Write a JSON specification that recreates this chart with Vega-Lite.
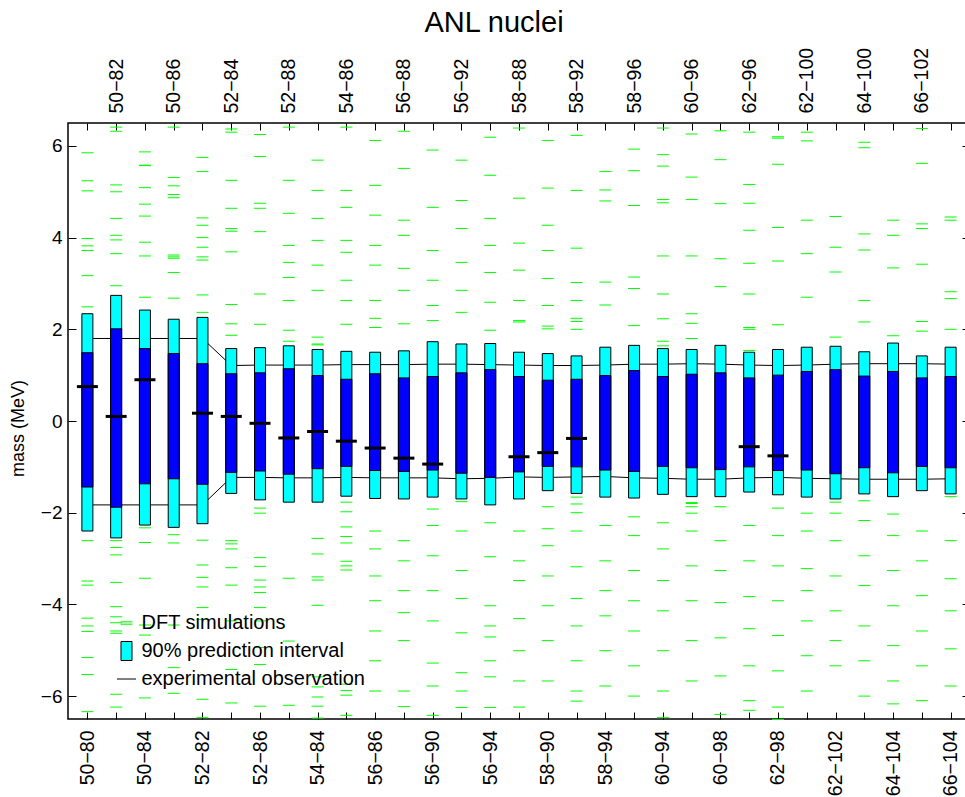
{
  "$schema": "https://vega.github.io/schema/vega-lite/v6.json",
  "width": 902,
  "height": 596,
  "autosize": {"type": "none"},
  "padding": {"left": 68, "top": 123, "right": -5, "bottom": 78},
  "title": {"text": "ANL nuclei", "fontSize": 29, "font": "Liberation Sans", "fontWeight": "normal", "color": "black", "anchor": "middle", "dx": -25, "offset": 9},
  "config": {
    "view": {"stroke": "black", "strokeWidth": 1.5},
    "font": "Liberation Sans",
    "axis": {"grid": false, "domain": false, "tickColor": "black", "labelColor": "black", "labelFont": "Liberation Sans", "titleFont": "Liberation Sans", "titleColor": "black", "titleFontWeight": "normal"}
  },
  "datasets": {
    "bars": [
      {"i": 1, "hi90": 2.34, "hi50": 1.49, "lo50": -1.44, "lo90": -2.40, "exp": 0.75, "su": 1.80, "sl": -1.83},
      {"i": 2, "hi90": 2.74, "hi50": 2.01, "lo50": -1.88, "lo90": -2.55, "exp": 0.10, "su": 1.80, "sl": -1.83},
      {"i": 3, "hi90": 2.42, "hi50": 1.58, "lo50": -1.37, "lo90": -2.27, "exp": 0.90, "su": 1.80, "sl": -1.83},
      {"i": 4, "hi90": 2.22, "hi50": 1.47, "lo50": -1.26, "lo90": -2.32, "exp": null, "su": 1.80, "sl": -1.83},
      {"i": 5, "hi90": 2.26, "hi50": 1.25, "lo50": -1.38, "lo90": -2.24, "exp": 0.17, "su": 1.80, "sl": -1.83},
      {"i": 6, "hi90": 1.58, "hi50": 1.03, "lo50": -1.12, "lo90": -1.58, "exp": 0.10, "su": 1.21, "sl": -1.23},
      {"i": 7, "hi90": 1.60, "hi50": 1.05, "lo50": -1.09, "lo90": -1.72, "exp": -0.05, "su": 1.22, "sl": -1.23},
      {"i": 8, "hi90": 1.64, "hi50": 1.14, "lo50": -1.16, "lo90": -1.77, "exp": -0.37, "su": 1.22, "sl": -1.24},
      {"i": 9, "hi90": 1.56, "hi50": 0.99, "lo50": -1.04, "lo90": -1.77, "exp": -0.23, "su": 1.22, "sl": -1.24},
      {"i": 10, "hi90": 1.52, "hi50": 0.91, "lo50": -0.99, "lo90": -1.64, "exp": -0.44, "su": 1.23, "sl": -1.23},
      {"i": 11, "hi90": 1.50, "hi50": 1.03, "lo50": -1.08, "lo90": -1.69, "exp": -0.59, "su": 1.23, "sl": -1.24},
      {"i": 12, "hi90": 1.53, "hi50": 0.94, "lo50": -1.10, "lo90": -1.70, "exp": -0.81, "su": 1.23, "sl": -1.24},
      {"i": 13, "hi90": 1.73, "hi50": 0.97, "lo50": -1.07, "lo90": -1.66, "exp": -0.94, "su": 1.24, "sl": -1.24},
      {"i": 14, "hi90": 1.68, "hi50": 1.05, "lo50": -1.14, "lo90": -1.70, "exp": null, "su": 1.24, "sl": -1.26},
      {"i": 15, "hi90": 1.69, "hi50": 1.12, "lo50": -1.23, "lo90": -1.83, "exp": null, "su": 1.23, "sl": -1.25},
      {"i": 16, "hi90": 1.50, "hi50": 0.97, "lo50": -1.11, "lo90": -1.70, "exp": -0.78, "su": 1.22, "sl": -1.22},
      {"i": 17, "hi90": 1.47, "hi50": 0.89, "lo50": -0.99, "lo90": -1.52, "exp": -0.69, "su": 1.21, "sl": -1.23},
      {"i": 18, "hi90": 1.42, "hi50": 0.91, "lo50": -1.00, "lo90": -1.58, "exp": -0.38, "su": 1.21, "sl": -1.22},
      {"i": 19, "hi90": 1.61, "hi50": 0.99, "lo50": -1.07, "lo90": -1.66, "exp": null, "su": 1.22, "sl": -1.21},
      {"i": 20, "hi90": 1.65, "hi50": 1.10, "lo50": -1.10, "lo90": -1.68, "exp": null, "su": 1.24, "sl": -1.24},
      {"i": 21, "hi90": 1.58, "hi50": 0.97, "lo50": -0.99, "lo90": -1.60, "exp": null, "su": 1.24, "sl": -1.25},
      {"i": 22, "hi90": 1.56, "hi50": 1.02, "lo50": -1.02, "lo90": -1.65, "exp": null, "su": 1.25, "sl": -1.27},
      {"i": 23, "hi90": 1.65, "hi50": 1.05, "lo50": -1.06, "lo90": -1.65, "exp": null, "su": 1.24, "sl": -1.27},
      {"i": 24, "hi90": 1.50, "hi50": 0.94, "lo50": -1.00, "lo90": -1.55, "exp": -0.56, "su": 1.22, "sl": -1.24},
      {"i": 25, "hi90": 1.56, "hi50": 1.00, "lo50": -1.08, "lo90": -1.61, "exp": -0.76, "su": 1.21, "sl": -1.23},
      {"i": 26, "hi90": 1.61, "hi50": 1.08, "lo50": -1.07, "lo90": -1.66, "exp": null, "su": 1.22, "sl": -1.25},
      {"i": 27, "hi90": 1.63, "hi50": 1.12, "lo50": -1.15, "lo90": -1.70, "exp": null, "su": 1.24, "sl": -1.26},
      {"i": 28, "hi90": 1.51, "hi50": 0.98, "lo50": -1.02, "lo90": -1.59, "exp": null, "su": 1.25, "sl": -1.27},
      {"i": 29, "hi90": 1.70, "hi50": 1.08, "lo50": -1.13, "lo90": -1.65, "exp": null, "su": 1.25, "sl": -1.27},
      {"i": 30, "hi90": 1.42, "hi50": 0.94, "lo50": -0.99, "lo90": -1.52, "exp": null, "su": 1.25, "sl": -1.27},
      {"i": 31, "hi90": 1.61, "hi50": 0.97, "lo50": -1.02, "lo90": -1.59, "exp": null, "su": 1.24, "sl": -1.26}
    ],
    "dft": [
      {"i":1,"v":5.85},{"i":1,"v":5.24},{"i":1,"v":5.02},{"i":1,"v":3.98},{"i":1,"v":3.82},{"i":1,"v":3.72},{"i":1,"v":3.17},{"i":1,"v":2.49},{"i":1,"v":-2.61},{"i":1,"v":-3.49},{"i":1,"v":-3.58},{"i":1,"v":-4.30},{"i":1,"v":-4.47},{"i":1,"v":-4.59},{"i":1,"v":-5.16},{"i":1,"v":-5.53},{"i":1,"v":-6.34},
      {"i":2,"v":6.41},{"i":2,"v":6.32},{"i":2,"v":5.15},{"i":2,"v":5.00},{"i":2,"v":4.42},{"i":2,"v":4.05},{"i":2,"v":3.95},{"i":2,"v":3.65},{"i":2,"v":2.95},{"i":2,"v":-2.61},{"i":2,"v":-2.76},{"i":2,"v":-2.92},{"i":2,"v":-3.52},{"i":2,"v":-4.05},{"i":2,"v":-4.27},{"i":2,"v":-4.40},{"i":2,"v":-4.58},{"i":2,"v":-4.63},{"i":2,"v":-5.96},{"i":2,"v":-6.24},
      {"i":3,"v":5.87},{"i":3,"v":5.58},{"i":3,"v":5.57},{"i":3,"v":5.09},{"i":3,"v":4.73},{"i":3,"v":4.47},{"i":3,"v":3.90},{"i":3,"v":3.60},{"i":3,"v":2.70},{"i":3,"v":-2.33},{"i":3,"v":-2.65},{"i":3,"v":-3.43},{"i":3,"v":-4.45},{"i":3,"v":-4.67},{"i":3,"v":-6.04},
      {"i":4,"v":6.41},{"i":4,"v":5.31},{"i":4,"v":5.13},{"i":4,"v":4.94},{"i":4,"v":4.87},{"i":4,"v":3.62},{"i":4,"v":3.58},{"i":4,"v":3.55},{"i":4,"v":3.24},{"i":4,"v":2.68},{"i":4,"v":-2.48},{"i":4,"v":-2.66},{"i":4,"v":-4.45},{"i":4,"v":-5.38},{"i":4,"v":-5.94},
      {"i":5,"v":5.75},{"i":5,"v":5.44},{"i":5,"v":4.43},{"i":5,"v":4.27},{"i":5,"v":4.00},{"i":5,"v":3.79},{"i":5,"v":3.58},{"i":5,"v":3.51},{"i":5,"v":2.75},{"i":5,"v":2.37},{"i":5,"v":-2.60},{"i":5,"v":-3.14},{"i":5,"v":-3.41},{"i":5,"v":-3.62},{"i":5,"v":-4.07},{"i":5,"v":-4.33},{"i":5,"v":-6.07},{"i":5,"v":-6.47},
      {"i":6,"v":6.37},{"i":6,"v":6.30},{"i":6,"v":5.25},{"i":6,"v":4.64},{"i":6,"v":4.20},{"i":6,"v":4.14},{"i":6,"v":3.69},{"i":6,"v":2.54},{"i":6,"v":2.12},{"i":6,"v":1.87},{"i":6,"v":-2.61},{"i":6,"v":-2.68},{"i":6,"v":-2.79},{"i":6,"v":-3.20},{"i":6,"v":-3.58},{"i":6,"v":-4.36},{"i":6,"v":-5.42},{"i":6,"v":-6.15},
      {"i":7,"v":6.25},{"i":7,"v":5.77},{"i":7,"v":4.75},{"i":7,"v":4.64},{"i":7,"v":4.13},{"i":7,"v":2.77},{"i":7,"v":2.11},{"i":7,"v":-1.90},{"i":7,"v":-2.01},{"i":7,"v":-2.98},{"i":7,"v":-3.17},{"i":7,"v":-3.47},{"i":7,"v":-3.62},{"i":7,"v":-3.74},{"i":7,"v":-4.07},{"i":7,"v":-4.36},{"i":7,"v":-4.94},{"i":7,"v":-5.31},{"i":7,"v":-6.22},
      {"i":8,"v":6.41},{"i":8,"v":5.25},{"i":8,"v":4.53},{"i":8,"v":3.83},{"i":8,"v":3.46},{"i":8,"v":3.13},{"i":8,"v":2.63},{"i":8,"v":1.98},{"i":8,"v":1.74},{"i":8,"v":-3.43},{"i":8,"v":-4.80},{"i":8,"v":-6.20},
      {"i":9,"v":5.69},{"i":9,"v":5.03},{"i":9,"v":4.42},{"i":9,"v":3.94},{"i":9,"v":3.40},{"i":9,"v":2.85},{"i":9,"v":1.83},{"i":9,"v":1.68},{"i":9,"v":1.66},{"i":9,"v":-2.56},{"i":9,"v":-2.90},{"i":9,"v":-3.40},{"i":9,"v":-3.47},{"i":9,"v":-4.02},{"i":9,"v":-5.58},{"i":9,"v":-5.80},{"i":9,"v":-6.02},{"i":9,"v":-6.22},{"i":9,"v":-6.48},
      {"i":10,"v":6.41},{"i":10,"v":5.03},{"i":10,"v":4.66},{"i":10,"v":3.94},{"i":10,"v":3.68},{"i":10,"v":3.07},{"i":10,"v":2.63},{"i":10,"v":2.11},{"i":10,"v":-1.77},{"i":10,"v":-1.98},{"i":10,"v":-2.31},{"i":10,"v":-2.52},{"i":10,"v":-2.66},{"i":10,"v":-3.06},{"i":10,"v":-3.16},{"i":10,"v":-3.25},{"i":10,"v":-5.74},{"i":10,"v":-5.88},{"i":10,"v":-5.98},{"i":10,"v":-6.42},
      {"i":11,"v":6.12},{"i":11,"v":5.14},{"i":11,"v":4.49},{"i":11,"v":3.83},{"i":11,"v":3.40},{"i":11,"v":2.63},{"i":11,"v":2.24},{"i":11,"v":2.04},{"i":11,"v":-2.40},{"i":11,"v":-2.79},{"i":11,"v":-3.38},{"i":11,"v":-3.92},{"i":11,"v":-4.58},{"i":11,"v":-5.23},{"i":11,"v":-5.89},
      {"i":12,"v":6.32},{"i":12,"v":5.51},{"i":12,"v":4.38},{"i":12,"v":4.05},{"i":12,"v":3.33},{"i":12,"v":2.85},{"i":12,"v":2.12},{"i":12,"v":-2.61},{"i":12,"v":-3.05},{"i":12,"v":-3.70},{"i":12,"v":-4.18},{"i":12,"v":-4.79},{"i":12,"v":-5.89},{"i":12,"v":-6.23},
      {"i":13,"v":5.91},{"i":13,"v":4.66},{"i":13,"v":3.72},{"i":13,"v":3.07},{"i":13,"v":2.52},{"i":13,"v":2.19},{"i":13,"v":-1.92},{"i":13,"v":-2.28},{"i":13,"v":-2.94},{"i":13,"v":-3.70},{"i":13,"v":-4.36},{"i":13,"v":-5.28},{"i":13,"v":-5.78},{"i":13,"v":-6.42},
      {"i":14,"v":5.69},{"i":14,"v":4.81},{"i":14,"v":4.20},{"i":14,"v":3.46},{"i":14,"v":2.85},{"i":14,"v":2.37},{"i":14,"v":-1.76},{"i":14,"v":-2.40},{"i":14,"v":-3.26},{"i":14,"v":-3.87},{"i":14,"v":-4.62},{"i":14,"v":-5.49},{"i":14,"v":-5.89},{"i":14,"v":-6.25},
      {"i":15,"v":6.19},{"i":15,"v":5.36},{"i":15,"v":4.42},{"i":15,"v":3.83},{"i":15,"v":3.24},{"i":15,"v":2.59},{"i":15,"v":1.98},{"i":15,"v":-2.22},{"i":15,"v":-2.96},{"i":15,"v":-4.03},{"i":15,"v":-4.47},{"i":15,"v":-4.71},{"i":15,"v":-5.23},{"i":15,"v":-5.58},{"i":15,"v":-6.25},
      {"i":16,"v":6.39},{"i":16,"v":4.86},{"i":16,"v":3.88},{"i":16,"v":3.29},{"i":16,"v":2.63},{"i":16,"v":2.19},{"i":16,"v":2.16},{"i":16,"v":-2.40},{"i":16,"v":-3.05},{"i":16,"v":-3.48},{"i":16,"v":-4.31},{"i":16,"v":-5.01},{"i":16,"v":-5.67},{"i":16,"v":-6.24},
      {"i":17,"v":6.12},{"i":17,"v":5.08},{"i":17,"v":4.27},{"i":17,"v":3.72},{"i":17,"v":3.11},{"i":17,"v":2.52},{"i":17,"v":2.07},{"i":17,"v":2.01},{"i":17,"v":-1.87},{"i":17,"v":-2.35},{"i":17,"v":-2.72},{"i":17,"v":-3.38},{"i":17,"v":-4.03},{"i":17,"v":-4.79},{"i":17,"v":-5.67},
      {"i":18,"v":6.23},{"i":18,"v":5.03},{"i":18,"v":3.77},{"i":18,"v":3.02},{"i":18,"v":2.63},{"i":18,"v":2.24},{"i":18,"v":2.17},{"i":18,"v":2.00},{"i":18,"v":-1.66},{"i":18,"v":-1.81},{"i":18,"v":-2.00},{"i":18,"v":-2.40},{"i":18,"v":-3.18},{"i":18,"v":-3.87},{"i":18,"v":-4.47},{"i":18,"v":-5.23},{"i":18,"v":-5.89},{"i":18,"v":-6.11},
      {"i":19,"v":5.44},{"i":19,"v":5.04},{"i":19,"v":4.80},{"i":19,"v":3.03},{"i":19,"v":2.53},{"i":19,"v":-2.28},{"i":19,"v":-3.05},{"i":19,"v":-3.70},{"i":19,"v":-4.25},{"i":19,"v":-5.01},{"i":19,"v":-5.78},
      {"i":20,"v":5.93},{"i":20,"v":5.46},{"i":20,"v":4.70},{"i":20,"v":3.14},{"i":20,"v":2.89},{"i":20,"v":2.08},{"i":20,"v":-2.09},{"i":20,"v":-2.50},{"i":20,"v":-3.26},{"i":20,"v":-3.92},{"i":20,"v":-4.58},{"i":20,"v":-5.34},{"i":20,"v":-6.00},
      {"i":21,"v":6.39},{"i":21,"v":5.81},{"i":21,"v":5.56},{"i":21,"v":4.83},{"i":21,"v":4.76},{"i":21,"v":3.60},{"i":21,"v":2.77},{"i":21,"v":2.23},{"i":21,"v":1.74},{"i":21,"v":1.64},{"i":21,"v":-2.22},{"i":21,"v":-2.79},{"i":21,"v":-3.48},{"i":21,"v":-4.14},{"i":21,"v":-5.01},{"i":21,"v":-5.89},{"i":21,"v":-6.47},
      {"i":22,"v":6.26},{"i":22,"v":5.32},{"i":22,"v":4.83},{"i":22,"v":3.60},{"i":22,"v":2.34},{"i":22,"v":2.13},{"i":22,"v":1.80},{"i":22,"v":-1.78},{"i":22,"v":-1.80},{"i":22,"v":-1.87},{"i":22,"v":-2.01},{"i":22,"v":-2.40},{"i":22,"v":-3.16},{"i":22,"v":-3.92},{"i":22,"v":-4.79},{"i":22,"v":-5.67},
      {"i":23,"v":6.33},{"i":23,"v":5.70},{"i":23,"v":4.74},{"i":23,"v":3.54},{"i":23,"v":2.93},{"i":23,"v":-1.87},{"i":23,"v":-2.61},{"i":23,"v":-3.26},{"i":23,"v":-3.96},{"i":23,"v":-4.73},{"i":23,"v":-5.56},{"i":23,"v":-6.40},
      {"i":24,"v":6.30},{"i":24,"v":5.16},{"i":24,"v":4.75},{"i":24,"v":4.16},{"i":24,"v":3.44},{"i":24,"v":2.77},{"i":24,"v":2.04},{"i":24,"v":2.00},{"i":24,"v":1.54},{"i":24,"v":-2.28},{"i":24,"v":-3.05},{"i":24,"v":-3.83},{"i":24,"v":-4.53},{"i":24,"v":-5.34},{"i":24,"v":-6.10},{"i":24,"v":-6.31},
      {"i":25,"v":6.20},{"i":25,"v":6.17},{"i":25,"v":5.60},{"i":25,"v":4.22},{"i":25,"v":3.49},{"i":25,"v":2.10},{"i":25,"v":-1.90},{"i":25,"v":-2.50},{"i":25,"v":-3.16},{"i":25,"v":-3.92},{"i":25,"v":-4.68},{"i":25,"v":-5.45},{"i":25,"v":-6.24},{"i":25,"v":-6.51},
      {"i":26,"v":6.30},{"i":26,"v":6.11},{"i":26,"v":4.38},{"i":26,"v":3.65},{"i":26,"v":2.70},{"i":26,"v":-2.01},{"i":26,"v":-2.40},{"i":26,"v":-3.22},{"i":26,"v":-3.70},{"i":26,"v":-4.36},{"i":26,"v":-5.12},{"i":26,"v":-5.89},
      {"i":27,"v":4.46},{"i":27,"v":3.79},{"i":27,"v":3.25},{"i":27,"v":1.83},{"i":27,"v":-1.77},{"i":27,"v":-2.01},{"i":27,"v":-2.61},{"i":27,"v":-3.38},{"i":27,"v":-4.14},{"i":27,"v":-4.79},{"i":27,"v":-5.34},
      {"i":28,"v":6.08},{"i":28,"v":5.96},{"i":28,"v":4.08},{"i":28,"v":3.73},{"i":28,"v":2.63},{"i":28,"v":2.16},{"i":28,"v":-1.74},{"i":28,"v":-2.17},{"i":28,"v":-2.94},{"i":28,"v":-3.59},{"i":28,"v":-4.47},{"i":28,"v":-5.23},{"i":28,"v":-6.00},
      {"i":29,"v":4.38},{"i":29,"v":4.05},{"i":29,"v":3.34},{"i":29,"v":1.86},{"i":29,"v":-2.03},{"i":29,"v":-2.50},{"i":29,"v":-3.26},{"i":29,"v":-4.03},{"i":29,"v":-4.90},{"i":29,"v":-5.67},{"i":29,"v":-6.17},
      {"i":30,"v":6.38},{"i":30,"v":5.62},{"i":30,"v":4.30},{"i":30,"v":4.20},{"i":30,"v":3.42},{"i":30,"v":2.17},{"i":30,"v":1.96},{"i":30,"v":-2.40},{"i":30,"v":-3.05},{"i":30,"v":-3.81},{"i":30,"v":-4.58},{"i":30,"v":-5.34},{"i":30,"v":-6.10},
      {"i":31,"v":4.45},{"i":31,"v":4.38},{"i":31,"v":2.82},{"i":31,"v":2.67},{"i":31,"v":2.00},{"i":31,"v":-1.65},{"i":31,"v":-2.61},{"i":31,"v":-3.44},{"i":31,"v":-4.14},{"i":31,"v":-4.97},{"i":31,"v":-5.78}
    ],
    "leg": [
      {"kind": "DFT simulations", "i": 100, "v": 0},
      {"kind": "90% prediction interval", "i": 100, "v": 0},
      {"kind": "experimental observation", "i": 100, "v": 0}
    ]
  },
  "layer": [
    {
      "data": {"name": "bars"},
      "mark": {"type": "line", "color": "black", "strokeWidth": 1},
      "encoding": {
        "x": {"field": "i", "type": "quantitative", "scale": {"domain": [0.5, 31.5], "nice": false, "zero": false},
          "axis": {"orient": "bottom", "values": [1,2,3,4,5,6,7,8,9,10,11,12,13,14,15,16,17,18,19,20,21,22,23,24,25,26,27,28,29,30,31],
            "labelExpr": "datum.value % 2 == 1 ? ['50−80','50−82','50−84','50−86','52−82','52−84','52−86','52−88','54−84','54−86','56−86','56−88','56−90','56−92','56−94','58−88','58−90','58−92','58−94','58−96','60−94','60−96','60−98','62−96','62−98','62−100','62−102','64−100','64−104','66−102','66−104'][datum.value - 1] : ''",
            "labelAngle": 270, "labelFontSize": 19.5, "labelPadding": 18, "tickSize": -7, "labelOverlap": false, "labelBound": false, "labelFlush": false, "title": null}},
        "y": {"field": "su", "type": "quantitative", "scale": {"domain": [-6.5, 6.5], "nice": false, "zero": false},
          "axis": {"orient": "left", "values": [-6,-4,-2,0,2,4,6], "tickSize": -8, "labelPadding": 14, "labelFontSize": 19,
            "title": "mass (MeV)", "titleFontSize": 18, "titleAngle": 270, "titleX": -50, "titleY": 305, "titleBaseline": "middle", "titleAlign": "center"}}
      }
    },
    {
      "data": {"name": "bars"},
      "mark": {"type": "line", "color": "black", "strokeWidth": 1},
      "encoding": {
        "x": {"field": "i", "type": "quantitative",
          "axis": {"orient": "top", "values": [1,2,3,4,5,6,7,8,9,10,11,12,13,14,15,16,17,18,19,20,21,22,23,24,25,26,27,28,29,30,31],
            "labelExpr": "datum.value % 2 == 0 ? ['50−80','50−82','50−84','50−86','52−82','52−84','52−86','52−88','54−84','54−86','56−86','56−88','56−90','56−92','56−94','58−88','58−90','58−92','58−94','58−96','60−94','60−96','60−98','62−96','62−98','62−100','62−102','64−100','64−104','66−102','66−104'][datum.value - 1] : ''",
            "labelAngle": 270, "labelFontSize": 19.5, "labelPadding": 17, "tickSize": -7, "labelOverlap": false, "labelBound": false, "labelFlush": false, "title": null}},
        "y": {"field": "sl", "type": "quantitative",
          "axis": {"orient": "right", "values": [-6,-4,-2,0,2,4,6], "tickSize": -8, "labels": false, "title": null}}
      }
    },
    {
      "data": {"name": "dft"},
      "mark": {"type": "tick", "orient": "horizontal", "size": 12, "thickness": 1, "color": "#00ff00", "opacity": 1},
      "encoding": {
        "x": {"field": "i", "type": "quantitative", "axis": null},
        "y": {"field": "v", "type": "quantitative", "axis": null}
      }
    },
    {
      "data": {"name": "bars"},
      "mark": {"type": "bar", "width": 11, "fill": "#00ffff", "stroke": "black", "strokeWidth": 1},
      "encoding": {
        "x": {"field": "i", "type": "quantitative", "axis": null},
        "y": {"field": "lo90", "type": "quantitative", "axis": null},
        "y2": {"field": "hi90"}
      }
    },
    {
      "data": {"name": "bars"},
      "mark": {"type": "bar", "width": 11, "fill": "#0000ff", "stroke": "black", "strokeWidth": 1},
      "encoding": {
        "x": {"field": "i", "type": "quantitative", "axis": null},
        "y": {"field": "lo50", "type": "quantitative", "axis": null},
        "y2": {"field": "hi50"}
      }
    },
    {
      "data": {"name": "bars"},
      "mark": {"type": "tick", "orient": "horizontal", "size": 21, "thickness": 3, "color": "black", "opacity": 1},
      "encoding": {
        "x": {"field": "i", "type": "quantitative", "axis": null},
        "y": {"field": "exp", "type": "quantitative", "axis": null}
      }
    },
    {
      "data": {"name": "leg"},
      "mark": {"type": "point", "clip": true, "opacity": 1},
      "encoding": {
        "x": {"field": "i", "type": "quantitative", "axis": null},
        "y": {"field": "v", "type": "quantitative", "axis": null},
        "shape": {"field": "kind", "type": "nominal",
          "scale": {"domain": ["DFT simulations", "90% prediction interval", "experimental observation"],
            "range": ["M-0.63,-0.17H0.63M-0.63,0H0.63M-0.63,0.17H0.63", "M-0.58,-1H0.58V1H-0.58Z", "M-1,0H1"]},
          "legend": {"title": null, "orient": "none", "legendX": 48.5, "legendY": 490, "symbolSize": 361, "symbolStrokeWidth": 1, "labelFontSize": 20, "labelFont": "Liberation Sans", "labelColor": "black", "labelOffset": 5, "rowPadding": 6, "padding": 0, "labelLimit": 500}},
        "fill": {"field": "kind", "type": "nominal",
          "scale": {"domain": ["DFT simulations", "90% prediction interval", "experimental observation"], "range": ["transparent", "#00ffff", "transparent"]},
          "legend": {"title": null, "orient": "none", "legendX": 48.5, "legendY": 490, "symbolSize": 361, "symbolStrokeWidth": 1, "labelFontSize": 20, "labelFont": "Liberation Sans", "labelColor": "black", "labelOffset": 5, "rowPadding": 6, "padding": 0, "labelLimit": 500}},
        "stroke": {"field": "kind", "type": "nominal",
          "scale": {"domain": ["DFT simulations", "90% prediction interval", "experimental observation"], "range": ["#44ee44", "black", "black"]},
          "legend": {"title": null, "orient": "none", "legendX": 48.5, "legendY": 490, "symbolSize": 361, "symbolStrokeWidth": 1, "labelFontSize": 20, "labelFont": "Liberation Sans", "labelColor": "black", "labelOffset": 5, "rowPadding": 6, "padding": 0, "labelLimit": 500}}
      }
    }
  ],
  "resolve": {"axis": {"x": "independent", "y": "independent"}}
}
